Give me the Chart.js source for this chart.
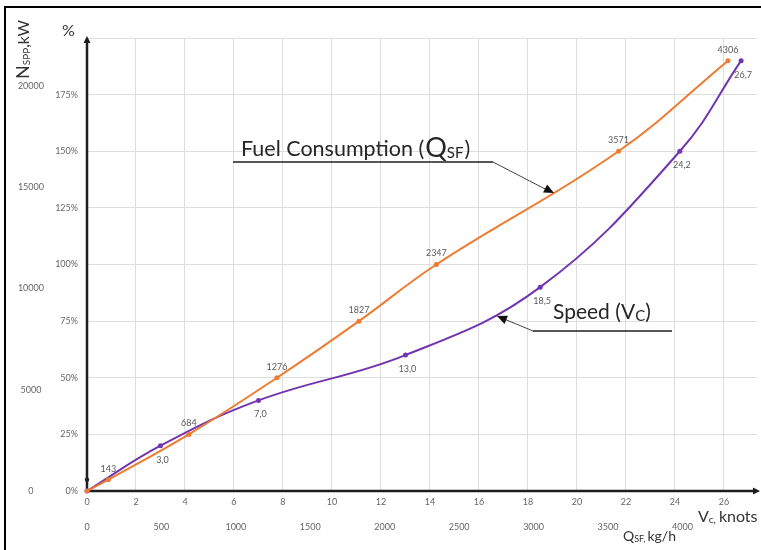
<!DOCTYPE html>
<html><head><meta charset="utf-8">
<script src="https://cdn.jsdelivr.net/npm/chart.js@4/dist/chart.umd.min.js"></script>
<style>html,body{margin:0;padding:0;background:#fff}#wrap{width:761px;height:550px;position:relative}</style>
</head><body><div id="wrap"><canvas id="c" width="761" height="550"></canvas></div>
<script>
// ---- data ----
const fuelKgH = [0, 143, 684, 1276, 1827, 2347, 3571, 4306];
const fuelPct = [0, 5, 25, 50, 75, 100, 150, 190];
const speedKnots = [0, 3.0, 7.0, 13.0, 18.5, 24.2, 26.7];
const speedPct = [0, 20, 40, 60, 90, 150, 190];
const markerKnots = [0];
const markerPct = [5];
const knotTicks = [0, 2, 4, 6, 8, 10, 12, 14, 16, 18, 20, 22, 24, 26];
const kghTicks = [0, 500, 1000, 1500, 2000, 2500, 3000, 3500, 4000];
const pctTicks = [0, 25, 50, 75, 100, 125, 150, 175, 200];
const kwTicks = [0, 5000, 10000, 15000, 20000];

const FONT = 'Lato, "Open Sans", sans-serif';
const ORANGE = '#EE7B30';
const PURPLE = '#7135B0';

function arrowHead(ctx, x0, y0, x1, y1, len, wid) {
  const a = Math.atan2(y1 - y0, x1 - x0);
  const c = Math.cos(a), s = Math.sin(a);
  ctx.beginPath();
  ctx.moveTo(x1, y1);
  ctx.lineTo(x1 - len * c + wid * s, y1 - len * s - wid * c);
  ctx.lineTo(x1 - len * c - wid * s, y1 - len * s + wid * c);
  ctx.closePath();
  ctx.fill();
}
function runs(ctx, x, y, parts) {
  for (const p of parts) {
    ctx.font = p[1] + 'px ' + FONT;
    ctx.fillText(p[0], x, y + (p[2] || 0));
    x += ctx.measureText(p[0]).width + (p[3] || 0);
  }
  return x;
}

const deco = {
  id: 'deco',
  beforeDatasetsDraw(chart) {
    const ctx = chart.ctx, a = chart.chartArea;
    ctx.save();
    ctx.strokeStyle = '#1e1e1e'; ctx.fillStyle = '#1e1e1e'; ctx.lineWidth = 2.5;
    ctx.beginPath(); ctx.moveTo(a.left, a.bottom); ctx.lineTo(a.left, a.top + 3); ctx.stroke();
    arrowHead(ctx, a.left, a.bottom, a.left, a.top - 2, 7, 3.5);
    ctx.beginPath(); ctx.moveTo(a.left, a.bottom); ctx.lineTo(a.right - 2, a.bottom); ctx.stroke();
    arrowHead(ctx, a.left, a.bottom, a.right + 3, a.bottom, 7, 3.5);
    ctx.restore();
  },
  afterDraw(chart) {
    const ctx = chart.ctx;
    ctx.save();
    // frame
    ctx.strokeStyle = '#000'; ctx.lineWidth = 2;
    ctx.beginPath(); ctx.moveTo(5, 550); ctx.lineTo(5, 7); ctx.lineTo(761, 7); ctx.stroke();
    // data labels
    ctx.font = '9px ' + FONT; ctx.fillStyle = '#595959'; ctx.textAlign = 'center'; ctx.textBaseline = 'middle';
    chart.getDatasetMeta(0).data.forEach((p, i) => {
      if (i === 0) return;
      ctx.fillText(String(fuelKgH[i]), p.x, p.y - 11);
    });
    chart.getDatasetMeta(1).data.forEach((p, i) => {
      if (i === 0) return;
      ctx.fillText(speedKnots[i].toFixed(1).replace('.', ','), p.x + 2, p.y + 14);
    });
    // annotations
    ctx.textAlign = 'left'; ctx.textBaseline = 'alphabetic'; ctx.fillStyle = '#262626';
    runs(ctx, 241, 156, [['Fuel Consumption (', 21.5, 0, 1], ['Q', 27, 1, 0], ['SF', 15, 2, 1], [')', 21.5, 0]]);
    runs(ctx, 553, 319, [['Speed (V', 21, 0, 0], ['C', 15, 2, 0], [')', 21, 0]]);
    ctx.strokeStyle = '#1e1e1e'; ctx.lineWidth = 1.6;
    ctx.beginPath(); ctx.moveTo(233, 162); ctx.lineTo(493, 162); ctx.stroke();
    ctx.lineWidth = 1; ctx.strokeStyle = '#444';
    ctx.beginPath(); ctx.moveTo(493, 162); ctx.lineTo(548, 190.5); ctx.stroke();
    ctx.fillStyle = '#111'; arrowHead(ctx, 493, 162, 554, 193, 10, 4.5);
    ctx.strokeStyle = '#1e1e1e'; ctx.lineWidth = 1.6;
    ctx.beginPath(); ctx.moveTo(533, 331); ctx.lineTo(672, 331); ctx.stroke();
    ctx.lineWidth = 1; ctx.strokeStyle = '#444';
    ctx.beginPath(); ctx.moveTo(533, 331); ctx.lineTo(503, 318.5); ctx.stroke();
    ctx.fillStyle = '#111'; arrowHead(ctx, 533, 331, 497, 316, 10, 4.5);
    // axis titles
    ctx.fillStyle = '#333';
    runs(ctx, 62, 36, [['%', 16, 0]]);
    runs(ctx, 698, 522, [['V', 16, 0, 0], ['c,', 10, 1, 3], ['knots', 16, 0]]);
    runs(ctx, 623, 541, [['Q', 14, 0, 0], ['SF,', 9, 1, 2], ['kg/h', 14, 0]]);
    ctx.translate(28.5, 79); ctx.rotate(-Math.PI / 2);
    runs(ctx, 0, 0, [['N', 18, 0, 0], ['SPP', 10, 1, 0], [',kW', 16, 0]]);
    ctx.restore();
  }
};

const tickFont = { family: FONT, size: 9 };
new Chart(document.getElementById('c'), {
  type: 'scatter',
  data: {
    datasets: [
      { label: 'Fuel Consumption (QSF)', data: fuelKgH.map((v, i) => ({ x: v, y: fuelPct[i] })),
        xAxisID: 'x2', yAxisID: 'y', showLine: true, tension: 0.4, borderColor: ORANGE, backgroundColor: ORANGE,
        borderWidth: 2, pointRadius: 2.5, pointBorderWidth: 0 },
      { label: 'Speed (Vc)', data: speedKnots.map((v, i) => ({ x: v, y: speedPct[i] })),
        xAxisID: 'x', yAxisID: 'y', showLine: true, tension: 0.4, borderColor: PURPLE, backgroundColor: PURPLE,
        borderWidth: 2, pointRadius: 2.5, pointBorderWidth: 0 },
      { label: 'marker', data: markerKnots.map((v, i) => ({ x: v, y: markerPct[i] })),
        xAxisID: 'x', yAxisID: 'y', showLine: false, backgroundColor: '#222', pointRadius: 2.2, pointBorderWidth: 0 }
    ]
  },
  options: {
    responsive: false, animation: false, clip: false,
    layout: { padding: { top: 38, right: 4, left: 0, bottom: 0 } },
    plugins: { legend: { display: false }, tooltip: { enabled: false } },
    scales: {
      x: { type: 'linear', position: 'bottom', weight: 1, min: 0, max: 27.35,
        afterBuildTicks: s => { s.ticks = knotTicks.map(v => ({ value: v })); },
        afterFit: s => { s.height = 17; },
        ticks: { font: tickFont, color: '#666', padding: 6, maxRotation: 0, autoSkip: false, callback: v => String(v) },
        grid: { color: '#dedede', drawTicks: false, lineWidth: 1 }, border: { display: false } },
      x2: { type: 'linear', position: 'bottom', weight: 2, min: 0, max: 4501,
        afterBuildTicks: s => { s.ticks = kghTicks.map(v => ({ value: v })); },
        afterFit: s => { s.height = 42; },
        ticks: { font: tickFont, color: '#666', padding: 6, maxRotation: 0, autoSkip: false, callback: v => String(v) },
        grid: { display: false }, border: { display: false } },
      y: { type: 'linear', position: 'left', weight: 1, min: 0, max: 200,
        afterBuildTicks: s => { s.ticks = pctTicks.map(v => ({ value: v })); },
        afterFit: s => { s.width = 32; },
        ticks: { font: tickFont, color: '#666', padding: 9, autoSkip: false,
          callback: v => (v >= 200 ? '' : v + '%') },
        grid: { color: '#dedede', drawTicks: false, lineWidth: 1 }, border: { display: false } },
      y2: { type: 'linear', position: 'left', weight: 2, min: 0, max: 22370,
        afterBuildTicks: s => { s.ticks = kwTicks.map(v => ({ value: v })); },
        afterFit: s => { s.width = 55; },
        ticks: { font: tickFont, color: '#666', padding: 3, crossAlign: 'center', autoSkip: false,
          callback: v => String(v) },
        grid: { display: false }, border: { display: false } }
    }
  },
  plugins: [deco]
});
</script>
</body></html>
